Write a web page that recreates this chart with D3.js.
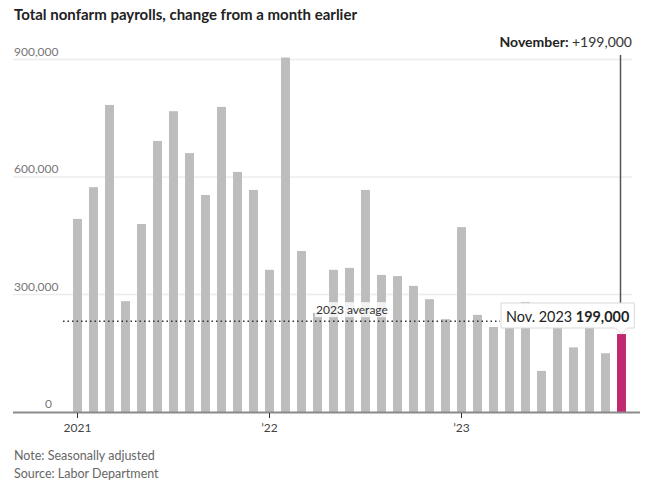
<!DOCTYPE html>
<html>
<head>
<meta charset="utf-8">
<script src="https://cdn.jsdelivr.net/npm/d3@7"></script>
<style>
  body { margin: 0; background: #fff; }
  svg { font-family: Lato, "Open Sans", sans-serif; }
</style>
</head>
<body>
<div id="chart"></div>
<script>
const months = [
  "2021-01","2021-02","2021-03","2021-04","2021-05","2021-06","2021-07","2021-08","2021-09","2021-10","2021-11","2021-12",
  "2022-01","2022-02","2022-03","2022-04","2022-05","2022-06","2022-07","2022-08","2022-09","2022-10","2022-11","2022-12",
  "2023-01","2023-02","2023-03","2023-04","2023-05","2023-06","2023-07","2023-08","2023-09","2023-10","2023-11"
];
const payrolls = [
  493000, 574000, 784000, 283000, 480000, 692000, 768000, 661000, 554000, 779000, 613000, 567000,
  363000, 905000, 411000, 253000, 363000, 368000, 567000, 350000, 347000, 322000, 288000, 237000,
  472000, 248000, 217000, 217000, 281000, 105000, 236000, 165000, 262000, 150000, 199000
];
const yTicks = [0, 300000, 600000, 900000];
const xTickMonths = ["2021-01", "2022-01", "2023-01"];
const xTickLabels = ["2021", "\u201922", "\u201923"];

const width = 645, height = 487;
const margin = { top: 59.5, bottom: 412, left: 13, right: 636 };

const svg = d3.select("#chart")
  .append("svg")
    .attr("width", width)
    .attr("height", height);

const x = d3.scaleBand()
  .domain(months)
  .range([69.5, 629.5])
  .paddingInner(0.44)
  .paddingOuter(0.22);

const y = d3.scaleLinear()
  .domain([0, 900000])
  .range([margin.bottom, margin.top]);

const fmt = d3.format(",");

// title
svg.append("text")
  .attr("x", 14)
  .attr("y", 20)
  .attr("font-size", 15)
  .attr("font-weight", "bold")
  .attr("fill", "#222")
  .text("Total nonfarm payrolls, change from a month earlier");

// gridlines + y labels
svg.append("g")
  .selectAll("line")
  .data(yTicks.filter(d => d > 0))
  .join("line")
    .attr("x1", margin.left)
    .attr("x2", 632)
    .attr("y1", d => y(d))
    .attr("y2", d => y(d))
    .attr("stroke", "#ececec")
    .attr("stroke-width", 1.5);

svg.append("g")
  .selectAll("text")
  .data(yTicks)
  .join("text")
    .attr("x", d => d === 0 ? 52 : 14)
    .attr("y", d => y(d) - 4)
    .attr("text-anchor", d => d === 0 ? "end" : "start")
    .attr("font-size", 12)
    .attr("fill", "#777")
    .text(d => fmt(d));

// bars
const last = months[months.length - 1];
svg.append("g")
  .selectAll("rect")
  .data(months)
  .join("rect")
    .attr("x", d => x(d))
    .attr("width", x.bandwidth())
    .attr("y", (d, i) => y(payrolls[i]))
    .attr("height", (d, i) => y(0) - y(payrolls[i]))
    .attr("fill", d => d === last ? "#c0296f" : "#bdbdbd");

// baseline axis
svg.append("line")
  .attr("x1", margin.left)
  .attr("x2", 640)
  .attr("y1", y(0) + 0.5)
  .attr("y2", y(0) + 0.5)
  .attr("stroke", "#8a8a8a")
  .attr("stroke-width", 2);

const xt = svg.append("g");
xt.selectAll("line")
  .data(xTickMonths)
  .join("line")
    .attr("x1", d => x(d) + x.bandwidth() / 2)
    .attr("x2", d => x(d) + x.bandwidth() / 2)
    .attr("y1", y(0) + 1)
    .attr("y2", y(0) + 6)
    .attr("stroke", "#333")
    .attr("stroke-width", 1);
xt.selectAll("text")
  .data(xTickMonths)
  .join("text")
    .attr("x", d => x(d) + x.bandwidth() / 2)
    .attr("y", 432)
    .attr("text-anchor", "middle")
    .attr("font-size", 12)
    .attr("fill", "#444")
    .text((d, i) => xTickLabels[i]);

// 2023 average line
const vals2023 = payrolls.filter((v, i) => months[i].startsWith("2023"));
const avg = d3.mean(vals2023);
svg.append("line")
  .attr("x1", 63)
  .attr("x2", 500)
  .attr("y1", y(avg))
  .attr("y2", y(avg))
  .attr("stroke", "#333")
  .attr("stroke-width", 1.5)
  .attr("stroke-dasharray", "1.5,3");

const avgLabel = svg.append("g");
const avgText = avgLabel.append("text")
  .attr("x", 316)
  .attr("y", y(avg) - 7)
  .attr("font-size", 12)
  .attr("fill", "#333")
  .text("2023 average");
const ab = avgText.node().getBBox();
avgLabel.insert("rect", "text")
  .attr("x", ab.x - 1)
  .attr("y", ab.y)
  .attr("width", ab.width + 2)
  .attr("height", ab.height)
  .attr("fill", "#fff")
  .attr("opacity", 0.8);

// November marker line
const cx = x(last) + x.bandwidth() / 2;
svg.append("line")
  .attr("x1", cx - 1)
  .attr("x2", cx - 1)
  .attr("y1", 55)
  .attr("y2", 303)
  .attr("stroke", "#555")
  .attr("stroke-width", 1.5);

const head = svg.append("text")
  .attr("x", 632)
  .attr("y", 47)
  .attr("text-anchor", "end")
  .attr("font-size", 14)
  .attr("fill", "#222");
head.append("tspan").attr("font-weight", "bold").text("November: ");
head.append("tspan").attr("fill", "#333").text("+" + fmt(payrolls[payrolls.length - 1]));

// tooltip box
const tip = svg.append("g");
const tipText = tip.append("text")
  .attr("x", 506)
  .attr("y", 322)
  .attr("font-size", 14.4)
  .attr("fill", "#222");
tipText.append("tspan").text("Nov. 2023 ");
tipText.append("tspan").attr("font-weight", "bold").text(fmt(payrolls[payrolls.length - 1]));
const tb = tipText.node().getBBox();
const bx = tb.x - 5, by = 303, bw = tb.width + 10, bh = 25;
const py = y(payrolls[payrolls.length - 1]);
tip.insert("path", "text")
  .attr("d", `M${bx},${by}H${bx + bw}V${by + bh}H${cx + 6}L${cx},${py}L${cx - 6},${by + bh}H${bx}Z`)
  .attr("fill", "#fff")
  .attr("fill-opacity", 0.96)
  .attr("stroke", "#d8d8d8")
  .attr("stroke-width", 1);

// footnotes
svg.append("text")
  .attr("x", 14)
  .attr("y", 460)
  .attr("font-size", 12.5)
  .attr("fill", "#666")
  .text("Note: Seasonally adjusted");
svg.append("text")
  .attr("x", 14)
  .attr("y", 478)
  .attr("font-size", 12.5)
  .attr("fill", "#666")
  .text("Source: Labor Department");
</script>
</body>
</html>
